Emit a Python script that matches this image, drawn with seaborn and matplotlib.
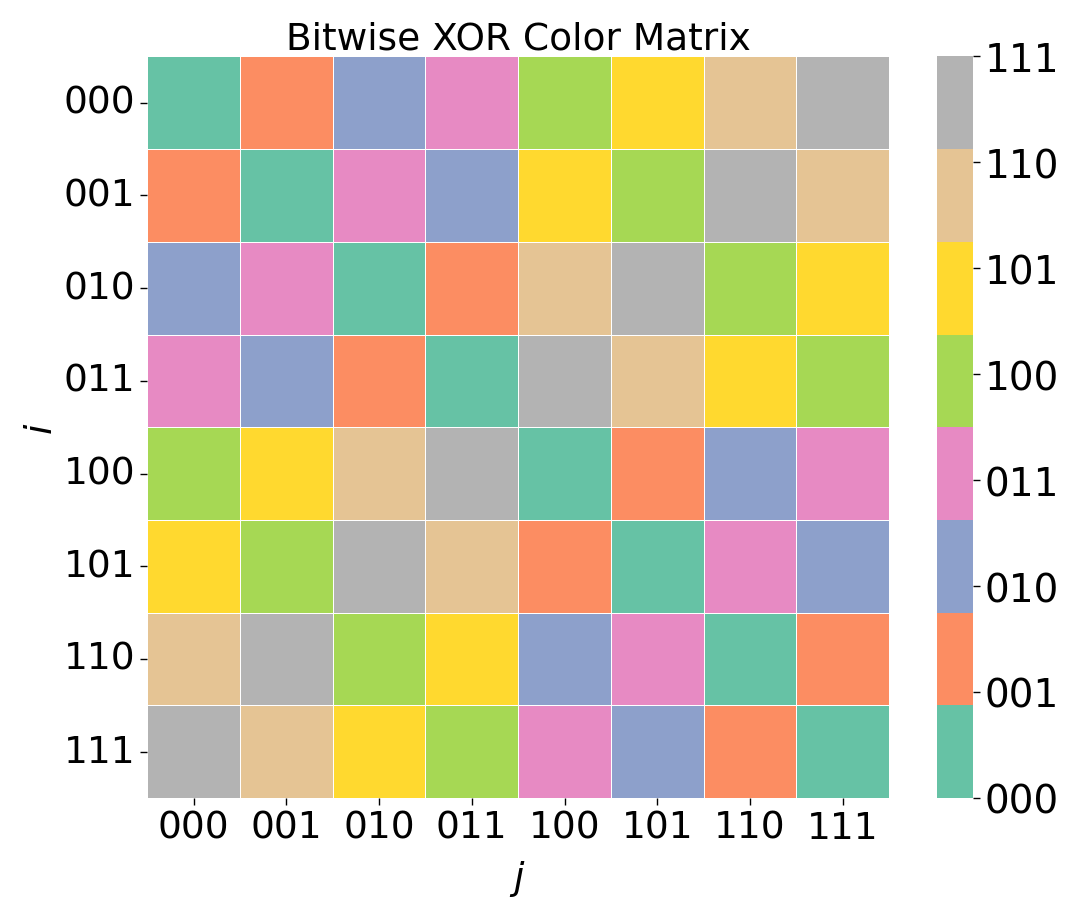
import numpy as np
import matplotlib
matplotlib.use("Agg")
import matplotlib.pyplot as plt
import seaborn as sns

# === DATOS ===
bits = ["000", "001", "010", "011", "100", "101", "110", "111"]
rows = [0, 1, 2, 3, 4, 5, 6, 7]
cols = [0, 1, 2, 3, 4, 5, 6, 7]
xor_values = np.array([[r ^ c for c in cols] for r in rows])

# === GRÁFICA ===
fig = plt.figure(figsize=(10.75, 9.12), dpi=100)
ax = fig.add_axes([0.137, 0.124, 0.690, 0.813])
cax = fig.add_axes([0.872, 0.124, 0.033, 0.813])

cmap = matplotlib.colors.ListedColormap(sns.color_palette("Set2", 8))
sns.heatmap(xor_values, ax=ax, cbar_ax=cax, cmap=cmap, vmin=0, vmax=7,
            linewidths=0.7, linecolor="white", square=False,
            xticklabels=bits, yticklabels=bits)

ax.set_title("Bitwise XOR Color Matrix", fontsize=27)
ax.set_xlabel("j", fontsize=27, style="italic", labelpad=10)
ax.set_ylabel("i", fontsize=27, style="italic")
ax.tick_params(labelsize=27, length=5, width=1)
plt.setp(ax.get_yticklabels(), rotation=0)
plt.setp(ax.get_xticklabels(), rotation=0)

cbar = ax.collections[0].colorbar
cbar.set_ticks(range(8))
cbar.set_ticklabels(bits)
cbar.ax.tick_params(labelsize=28, length=5, width=1)
cbar.outline.set_visible(False)

fig.savefig("out.png", dpi=100)
